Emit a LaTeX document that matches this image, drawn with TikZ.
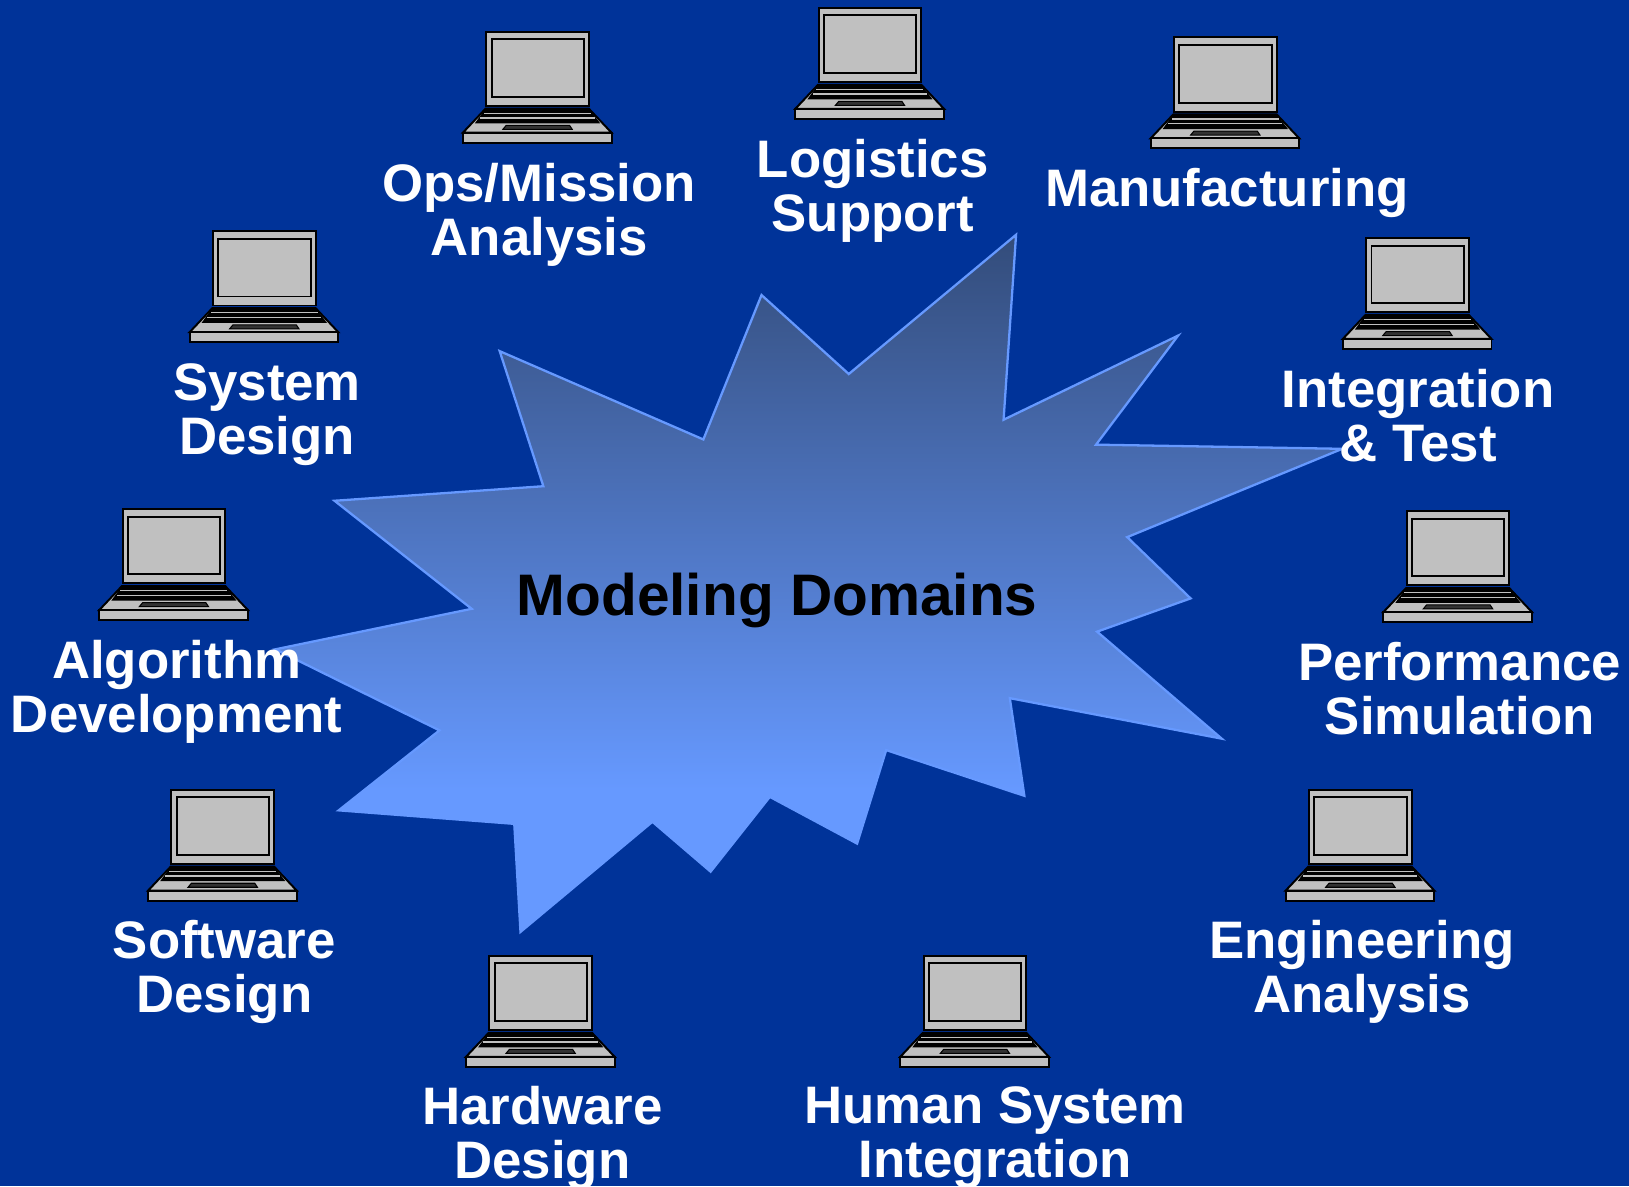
\documentclass[tikz,border=0pt]{standalone}
\usepackage{fontspec}
\setmainfont{Liberation Sans}
\definecolor{bgblue}{RGB}{0,51,153}
\definecolor{startop}{RGB}{51,76,122}
\definecolor{starbot}{RGB}{102,153,255}
\definecolor{lapgray}{RGB}{192,192,192}
\definecolor{keydark}{RGB}{50,50,50}
\newcommand{\starshape}{(978,226)--(966,404)--(1134,323)--(1055,428)--(1292,432)--(1085,517)--(1146,576)--(1056,608)--(1176,711)--(972,672)--(986,766)--(853,722)--(825,812)--(741,767)--(684,839)--(628,791)--(501,897)--(495,793)--(326,780)--(423,703)--(265,625)--(454,586)--(322,482)--(523,468)--(481,338)--(677,423)--(733,284)--(817,360)--cycle}
\tikzset{
  lab/.style={text=white,font=\fontsize{25.4}{26}\selectfont\bfseries,align=center,inner sep=0pt},
  lapline/.style={draw=black,line width=0.95pt,line join=miter},
  laptop/.pic={
    \begin{scope}[x=0.1604pt,y=-0.1604pt]
      \fill[lapgray,lapline] (0,0) rectangle (308,223);
      \fill[lapgray,lapline] (16,23) rectangle (293,196);
      \fill[lapgray,lapline] (-2,231) -- (308,231) -- (376,303) -- (-70,303) -- cycle;
      \fill[black] (-2,231) -- (308,231) -- (342,275) -- (-34,275) -- cycle;
      \fill[lapgray] (-7,243) rectangle (314,247);
      \fill[lapgray] (-18,257) rectangle (325,261);
      \fill[keydark,draw=black,line width=0.5pt] (60,281) -- (250,281) -- (258,293) -- (50,293) -- cycle;
      \fill[lapgray,lapline] (-70,303) rectangle (376,333);
    \end{scope}
  }
}
\begin{document}
\begin{tikzpicture}[x=0.5pt,y=-0.5pt]
\fill[bgblue] (0,0) rectangle (1568,1141.6);
\useasboundingbox (0,0) rectangle (1568,1141.6);
\begin{scope}
  \clip \starshape;
  \fill[starbot] (250,750) rectangle (1310,910);
  \shade[top color=startop,bottom color=starbot,shading angle=0] (250,225) rectangle (1310,760);
\end{scope}
\draw[draw=starbot,line width=1.1pt,line join=miter,miter limit=6] \starshape;
\pic at (468,30.5) {laptop};
\pic at (788,7.5) {laptop};
\pic at (1130,36) {laptop};
\pic at (205,222.5) {laptop};
\pic at (1315,229) {laptop};
\pic at (118,490) {laptop};
\pic at (1354,492) {laptop};
\pic at (165,760) {laptop};
\pic at (1260,760) {laptop};
\pic at (471,920) {laptop};
\pic at (889,920) {laptop};
\node[lab] (ops) at (519,207) {Ops/Mission\\Analysis};
\node[lab] (log) at (840,183.5) {Logistics\\Support};
\node[lab] (man) at (1181,186) {Manufacturing};
\node[lab] (sys) at (257,399) {System\\Design};
\node[lab] (int) at (1365,400) {Integration\\\& Test};
\node[lab] (alg) at (170,666) {Algorithm\\Development};
\node[lab] (per) at (1405,662.5) {Performance\\Simulation};
\node[lab] (sof) at (216,936) {Software\\Design};
\node[lab] (eng) at (1311,935.5) {Engineering\\Analysis};
\node[lab] (har) at (522,1095.5) {Hardware\\Design};
\node[lab] (hum) at (958,1095.5) {Human System\\Integration};
\node[lab,text=black,font=\fontsize{28.2}{30}\selectfont\bfseries] (mod) at (748,578) {Modeling Domains};
\end{tikzpicture}
\end{document}
